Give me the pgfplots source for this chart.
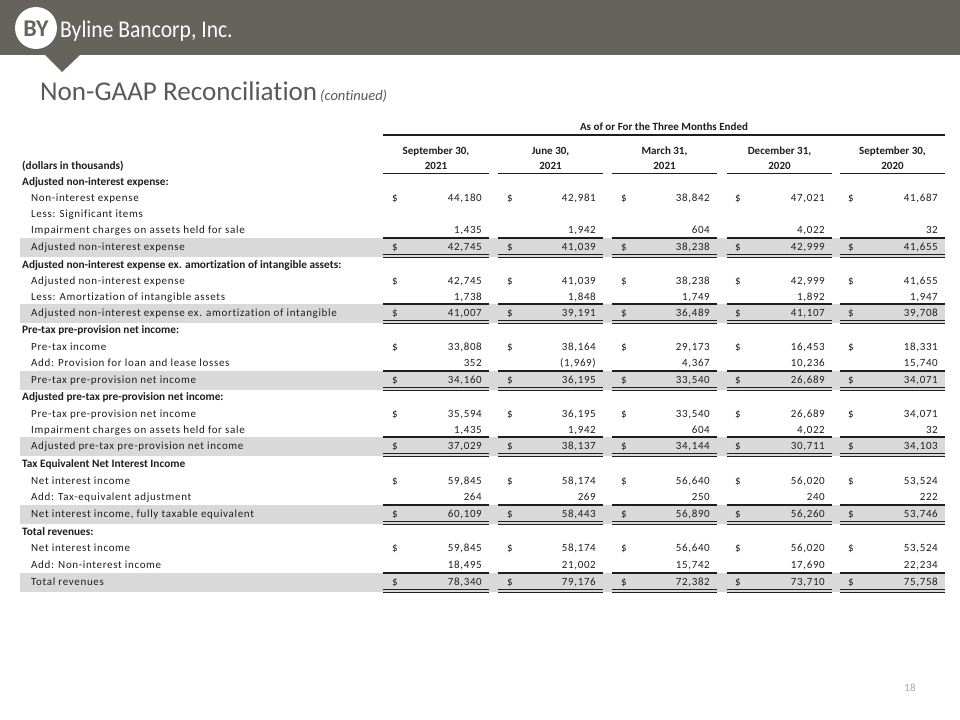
\documentclass[border=0pt]{standalone}
\usepackage{pgfplots}
\pgfplotsset{compat=1.18}
\usepackage{fontspec}
\setmainfont{Carlito}[Ligatures=NoCommon]
\newfontfamily\spaced[LetterSpace=6,Ligatures=NoCommon]{Carlito}

\definecolor{band}{RGB}{102,98,92}
\definecolor{rowgray}{RGB}{217,217,217}
\definecolor{ink}{RGB}{30,30,30}
\definecolor{titlegray}{RGB}{89,89,89}

\tikzset{
  num/.style={anchor=base east,inner sep=0,text=ink,font=\fontsize{11bp}{13bp}\spaced},
  dol/.style={anchor=base west,inner sep=0,text=ink,font=\fontsize{11bp}{13bp}\selectfont},
  colhead/.style={anchor=base,inner sep=0,text=ink,font=\fontsize{11bp}{13bp}\selectfont\bfseries},
}

% row helpers, y is the row centre in pixels from the top
\newcommand{\head}[2]{\node[anchor=base west,inner sep=0,text=ink,font=\fontsize{11.3bp}{13bp}\selectfont\bfseries] at (22,#1+3.7) {#2};}
\newcommand{\lab}[2]{\node[anchor=base west,inner sep=0,text=ink,font=\fontsize{11bp}{13bp}\spaced] at (31,#1+3.7) {#2};}
\newcommand{\vals}[6]{%
  \node[num] at (482,#1+3.7) {#2};
  \node[num] at (596,#1+3.7) {#3};
  \node[num] at (710,#1+3.7) {#4};
  \node[num] at (825,#1+3.7) {#5};
  \node[num] at (938,#1+3.7) {#6};}
\newcommand{\dollars}[1]{%
  \node[dol] at (392,#1+3.7) {\$};
  \node[dol] at (507,#1+3.7) {\$};
  \node[dol] at (621,#1+3.7) {\$};
  \node[dol] at (735,#1+3.7) {\$};
  \node[dol] at (848,#1+3.7) {\$};}
\newcommand{\total}[1]{%
  \fill[rowgray] (20,#1-9.5) rectangle (945,#1+9.5);
  \draw[ink,line width=1.2bp] (383,#1-9) -- (489,#1-9) (498,#1-9) -- (603,#1-9) (612,#1-9) -- (717,#1-9) (727,#1-9) -- (832,#1-9) (840,#1-9) -- (945,#1-9);
  \draw[ink,line width=1.6bp] (383,#1+7.6) -- (489,#1+7.6) (498,#1+7.6) -- (603,#1+7.6) (612,#1+7.6) -- (717,#1+7.6) (727,#1+7.6) -- (832,#1+7.6) (840,#1+7.6) -- (945,#1+7.6);
  \draw[ink,line width=0.9bp] (383,#1+10.2) -- (489,#1+10.2) (498,#1+10.2) -- (603,#1+10.2) (612,#1+10.2) -- (717,#1+10.2) (727,#1+10.2) -- (832,#1+10.2) (840,#1+10.2) -- (945,#1+10.2);}

\begin{document}
\begin{tikzpicture}
\begin{axis}[
  scale only axis,
  width=960bp, height=720bp,
  xmin=0, xmax=960, ymin=0, ymax=720,
  y dir=reverse,
  hide axis,
]
\fill[white] (0,0) rectangle (960,720);

% banner
\fill[band] (0,0) rectangle (960,55);
\fill[band] (45,55) -- (80,55) -- (62,72) -- cycle;
\fill[white] (36,28) circle[radius=21];
\node[inner sep=0,text=band,font=\fontsize{24bp}{26bp}\selectfont\bfseries] at (36,29) {BY};
\node[anchor=base west,inner sep=0,text=white,xscale=0.9,font=\fontsize{24bp}{26bp}\selectfont] at (60,37.5) {Byline Bancorp, Inc.};

% title
\node[anchor=base west,inner sep=0,text=titlegray,font=\fontsize{27.1bp}{30bp}\selectfont] at (40,101) {Non-GAAP Reconciliation};
\node[anchor=base west,inner sep=0,text=titlegray,font=\fontsize{14.5bp}{16bp}\selectfont\itshape] at (320,101) {(continued)};

% column headers
\node[colhead] at (664,131) {As of or For the Three Months Ended};
\draw[ink,line width=1.4bp] (383,135) -- (945,135);
\node[colhead] at (436,155) {September 30,};
\node[colhead] at (550.5,155) {June 30,};
\node[colhead] at (664.5,155) {March 31,};
\node[colhead] at (779.5,155) {December 31,};
\node[colhead] at (892.5,155) {September 30,};
\node[colhead] at (436,170) {2021};
\node[colhead] at (550.5,170) {2021};
\node[colhead] at (664.5,170) {2021};
\node[colhead] at (779.5,170) {2020};
\node[colhead] at (892.5,170) {2020};
\draw[ink,line width=1.4bp] (383,173.5) -- (489,173.5) (498,173.5) -- (603,173.5) (612,173.5) -- (717,173.5) (727,173.5) -- (832,173.5) (840,173.5) -- (945,173.5);
\head{166.3}{(dollars in thousands)}

% Adjusted non-interest expense
\head{182}{Adjusted non-interest expense:}
\lab{198}{Non-interest expense} \dollars{198} \vals{198}{44,180}{42,981}{38,842}{47,021}{41,687}
\lab{214}{Less: Significant items}
\lab{230}{Impairment charges on assets held for sale} \vals{230}{1,435}{1,942}{604}{4,022}{32}
\total{247}
\lab{247}{Adjusted non-interest expense} \dollars{247} \vals{247}{42,745}{41,039}{38,238}{42,999}{41,655}

% ex. amortization
\head{265}{Adjusted non-interest expense ex. amortization of intangible assets:}
\lab{281}{Adjusted non-interest expense} \dollars{281} \vals{281}{42,745}{41,039}{38,238}{42,999}{41,655}
\lab{297}{Less: Amortization of intangible assets} \vals{297}{1,738}{1,848}{1,749}{1,892}{1,947}
\total{313}
\lab{313}{Adjusted non-interest expense ex. amortization of intangible} \dollars{313} \vals{313}{41,007}{39,191}{36,489}{41,107}{39,708}

% pre-tax pre-provision
\head{330}{Pre-tax pre-provision net income:}
\lab{347}{Pre-tax income} \dollars{347} \vals{347}{33,808}{38,164}{29,173}{16,453}{18,331}
\lab{363}{Add: Provision for loan and lease losses} \vals{363}{352}{(1,969)}{4,367}{10,236}{15,740}
\total{380}
\lab{380}{Pre-tax pre-provision net income} \dollars{380} \vals{380}{34,160}{36,195}{33,540}{26,689}{34,071}

% adjusted pre-tax pre-provision
\head{397}{Adjusted pre-tax pre-provision net income:}
\lab{414}{Pre-tax pre-provision net income} \dollars{414} \vals{414}{35,594}{36,195}{33,540}{26,689}{34,071}
\lab{430}{Impairment charges on assets held for sale} \vals{430}{1,435}{1,942}{604}{4,022}{32}
\total{446}
\lab{446}{Adjusted pre-tax pre-provision net income} \dollars{446} \vals{446}{37,029}{38,137}{34,144}{30,711}{34,103}

% tax equivalent
\head{464}{Tax Equivalent Net Interest Income}
\lab{481}{Net interest income} \dollars{481} \vals{481}{59,845}{58,174}{56,640}{56,020}{53,524}
\lab{497}{Add: Tax-equivalent adjustment} \vals{497}{264}{269}{250}{240}{222}
\total{514}
\lab{514}{Net interest income, fully taxable equivalent} \dollars{514} \vals{514}{60,109}{58,443}{56,890}{56,260}{53,746}

% total revenues
\head{532}{Total revenues:}
\lab{548}{Net interest income} \dollars{548} \vals{548}{59,845}{58,174}{56,640}{56,020}{53,524}
\lab{565}{Add: Non-interest income} \vals{565}{18,495}{21,002}{15,742}{17,690}{22,234}
\total{582}
\lab{582}{Total revenues} \dollars{582} \vals{582}{78,340}{79,176}{72,382}{73,710}{75,758}

% page number
\node[inner sep=0,text=gray!70,font=\fontsize{11bp}{13bp}\selectfont] at (910,688) {18};
\end{axis}
\end{tikzpicture}
\end{document}
